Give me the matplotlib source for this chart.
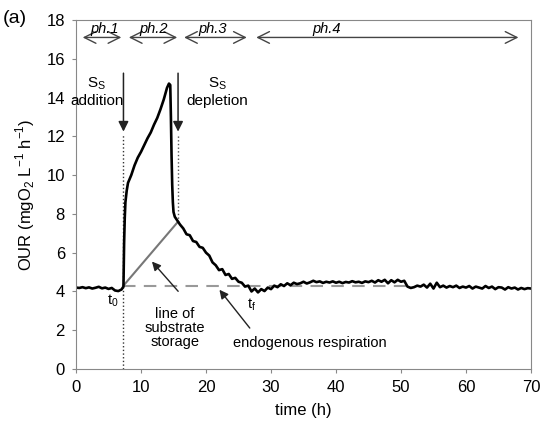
import matplotlib.pyplot as plt

plt.rcParams['font.family'] = ['Liberation Sans', 'DejaVu Sans']

# OUR curve
time_h = [0.0, 0.5, 1.0, 1.5, 2.0, 2.5, 3.0, 3.5, 4.0, 4.5, 5.0, 5.5, 6.0, 6.5, 7.0, 7.3,
          7.4, 7.5, 7.6, 7.8, 8.0, 8.5, 9.0, 9.5, 10.0, 10.5, 11.0, 11.5, 12.0, 12.5, 13.0,
          13.5, 14.0, 14.3, 14.5, 14.6, 14.7, 14.8, 14.9, 15.0, 15.2, 15.5, 15.7,
          16.0, 16.5, 17.0, 17.5, 18.0, 18.5, 19.0, 19.5, 20.0, 20.5, 21.0, 21.5, 22.0,
          22.5, 23.0, 23.5, 24.0, 24.5, 25.0, 25.5, 26.0, 26.5, 27.0, 27.5, 28.0, 28.5,
          29.0, 29.5, 30.0, 30.5, 31.0, 31.5, 32.0, 32.5, 33.0, 33.5, 34.0, 34.5, 35.0,
          35.5, 36.0, 36.5, 37.0, 37.5, 38.0, 38.5, 39.0, 39.5, 40.0, 40.5, 41.0, 41.5,
          42.0, 42.5, 43.0, 43.5, 44.0, 44.5, 45.0, 45.5, 46.0, 46.5, 47.0, 47.5, 48.0,
          48.5, 49.0, 49.5, 50.0, 50.5, 51.0, 51.5, 52.0, 52.5, 53.0, 53.5, 54.0, 54.5,
          55.0, 55.5, 56.0, 56.5, 57.0, 57.5, 58.0, 58.5, 59.0, 59.5, 60.0, 60.5, 61.0,
          61.5, 62.0, 62.5, 63.0, 63.5, 64.0, 64.5, 65.0, 65.5, 66.0, 66.5, 67.0, 67.5,
          68.0, 68.5, 69.0, 69.5, 70.0]
our = [4.20, 4.18, 4.22, 4.17, 4.21, 4.15, 4.19, 4.24, 4.16, 4.20, 4.13, 4.18, 4.05, 4.02, 4.10, 4.25,
       6.5, 7.8, 8.6, 9.2, 9.6, 10.0, 10.5, 10.9, 11.2, 11.55, 11.9, 12.2, 12.6, 12.95, 13.4,
       13.9, 14.5, 14.72, 14.65, 13.0, 11.0, 9.5, 8.6, 8.1, 7.85, 7.7, 7.6,
       7.45, 7.25, 6.95, 6.9, 6.6, 6.55, 6.3, 6.25, 6.0, 5.85, 5.5, 5.35, 5.1,
       5.15, 4.85, 4.9, 4.65, 4.7, 4.5, 4.45, 4.25, 4.3, 4.0, 4.15, 3.95, 4.12,
       4.02, 4.2, 4.12, 4.3, 4.22, 4.37, 4.28, 4.42, 4.32, 4.45, 4.38, 4.42, 4.5,
       4.41, 4.47, 4.55, 4.48, 4.52, 4.44, 4.5, 4.46, 4.52, 4.45, 4.5, 4.43, 4.49,
       4.46, 4.53, 4.47, 4.5, 4.44, 4.52, 4.48, 4.55, 4.46, 4.58, 4.5, 4.6, 4.42,
       4.58, 4.47, 4.6, 4.5, 4.55, 4.25, 4.18, 4.22, 4.3, 4.25, 4.35, 4.2, 4.4,
       4.15, 4.45, 4.22, 4.3, 4.2, 4.28, 4.22, 4.3, 4.18, 4.25, 4.2, 4.28, 4.15,
       4.25, 4.2, 4.15, 4.28, 4.18, 4.25, 4.12, 4.22, 4.2, 4.1, 4.22, 4.15, 4.2,
       4.1, 4.18, 4.12, 4.17, 4.15]

# key points
t0 = 7.3
t_dep = 15.7
t_f = 27.0
baseline = 4.3
storage_peak = 7.6

phase_names = ['ph.1', 'ph.2', 'ph.3', 'ph.4']
phase_start = [0.6, 7.7, 16.2, 27.3]
phase_end = [7.4, 16.0, 26.7, 68.5]
phase_label_x = [4.4, 12.0, 21.0, 38.5]

fig = plt.figure(figsize=(5.41, 4.21), dpi=100)
ax = fig.add_axes([0.1405, 0.1235, 0.841, 0.829])

# endogenous baseline and storage line
ax.plot([t0, 52], [baseline, baseline], color='#999999', lw=1.5, dashes=(6, 4))
ax.plot([t0, t_dep], [baseline, storage_peak], color='#777777', lw=1.5)

# dotted markers
ax.plot([t0, t0], [0, 12.1], ':', color='#333333', lw=1)
ax.plot([t_dep, t_dep], [storage_peak, 12.1], ':', color='#555555', lw=1)

ax.plot(time_h, our, color='black', lw=1.9)

# Ss arrows
for xv in [t0, t_dep]:
    ax.annotate('', xy=(xv, 12.1), xytext=(xv, 15.4),
                arrowprops=dict(arrowstyle='-|>', color='#222222', lw=1.1,
                                mutation_scale=15))
ax.text(3.2, 14.7, 'S$_\\mathregular{S}$', ha='center', va='center', fontsize=11)
ax.text(3.2, 13.8, 'addition', ha='center', va='center', fontsize=11)
ax.text(21.7, 14.7, 'S$_\\mathregular{S}$', ha='center', va='center', fontsize=11)
ax.text(21.7, 13.8, 'depletion', ha='center', va='center', fontsize=11)

# phase arrows
for name, a, b, lx in zip(phase_names, phase_start, phase_end, phase_label_x):
    ax.annotate('', xy=(a, 17.1), xytext=(b, 17.1),
                arrowprops=dict(arrowstyle='<->,head_length=0.6,head_width=0.3',
                                color='#444444', lw=1, mutation_scale=14))
    ax.text(lx, 17.55, name, ha='center', va='center', fontsize=10.5, style='italic')

# other annotations
ax.annotate('', xy=(11.4, 5.65), xytext=(16.0, 3.9),
            arrowprops=dict(arrowstyle='-|>', color='#222222', lw=1, mutation_scale=13))
ax.text(15.2, 2.1, 'line of\nsubstrate\nstorage', ha='center', va='center',
        fontsize=10.5, linespacing=1.0)
ax.annotate('', xy=(21.8, 4.2), xytext=(27.0, 2.0),
            arrowprops=dict(arrowstyle='-|>', color='#222222', lw=1, mutation_scale=13))
ax.text(36.0, 1.33, 'endogenous respiration', ha='center', va='center', fontsize=10.5)
ax.text(5.7, 3.55, 't$_\\mathregular{0}$', ha='center', va='center', fontsize=10.5)
ax.text(t_f, 3.3, 't$_\\mathregular{f}$', ha='center', va='center', fontsize=10.5)

ax.set_xlim(0, 70)
ax.set_ylim(0, 18)
ax.set_xticks(range(0, 71, 10))
ax.set_yticks(range(0, 19, 2))
ax.tick_params(labelsize=12, color='#888888', length=3, pad=5)
for s in ax.spines.values():
    s.set_color('#888888')
ax.set_xlabel('time (h)', fontsize=12, labelpad=6)
ax.set_ylabel('OUR (mgO$_\\mathregular{2}$ L$^\\mathregular{-1}$ h$^\\mathregular{-1}$)',
              fontsize=12, labelpad=7)
fig.text(0.005, 0.955, '(a)', fontsize=14, va='center')

fig.savefig('out.png', dpi=100)
